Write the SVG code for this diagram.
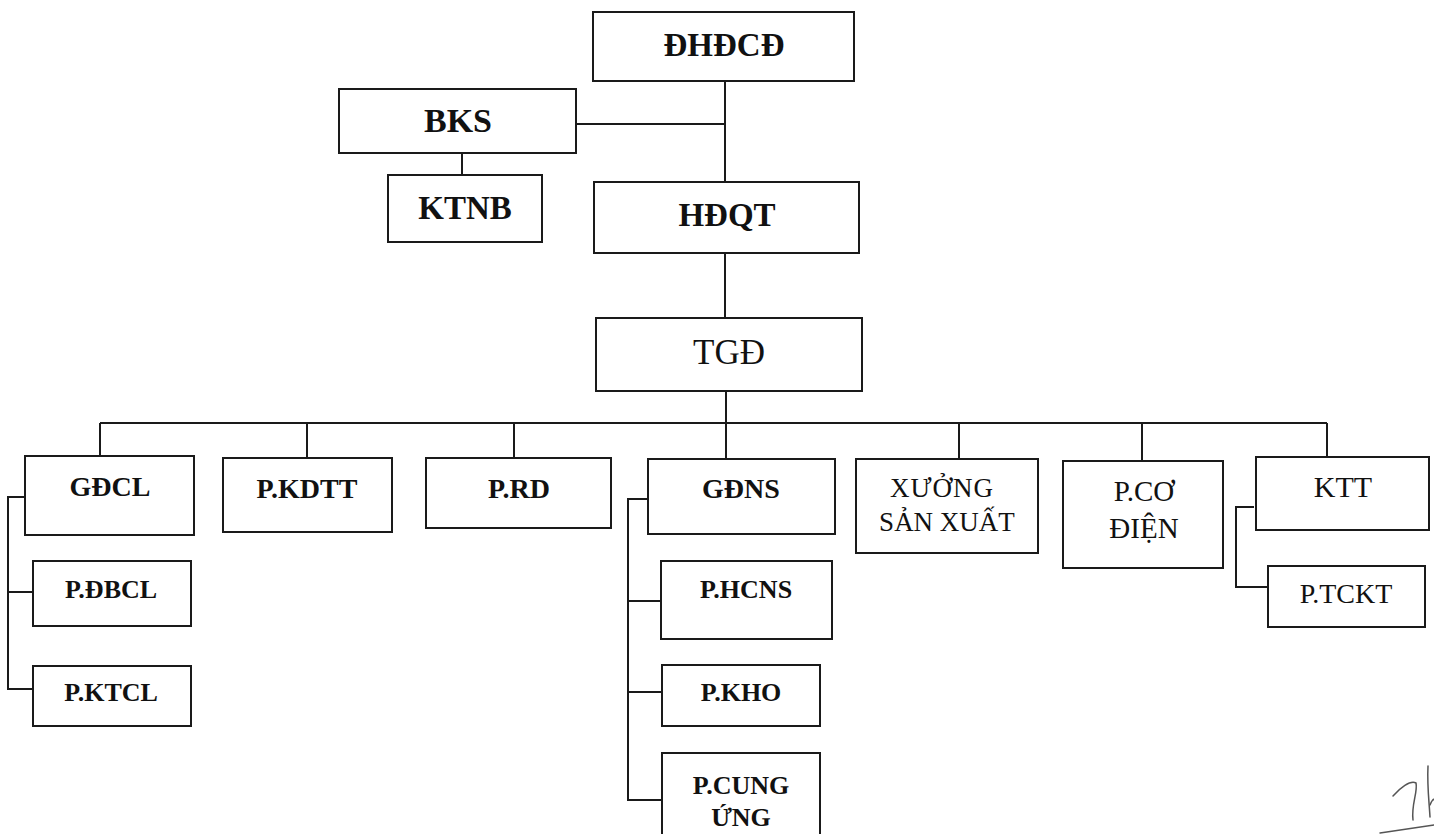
<svg xmlns="http://www.w3.org/2000/svg" width="1434" height="834" viewBox="0 0 1434 834">
<style>
.box{fill:#fff;stroke:#1a1a1a;stroke-width:2}
.ln{fill:none;stroke:#1a1a1a;stroke-width:2}
text{font-family:'Liberation Serif','Times New Roman',serif;fill:#111;text-anchor:middle}
.b{font-weight:bold}
.t1{font-size:33px}
.t2{font-size:28px}
.t3{font-size:26px}
</style>
<rect width="1434" height="834" fill="#fff"/>
<g id="connectors">
<path class="ln" d="M725,81 V182"/>
<path class="ln" d="M576,124 H725"/>
<path class="ln" d="M462,153 V175"/>
<path class="ln" d="M725,253 V318"/>
<path class="ln" d="M726,391 V423"/>
<path class="ln" d="M100,423 H1327"/>
<path class="ln" d="M100,423 V456 M307,423 V458 M514,423 V458 M726,423 V459 M959,423 V459 M1142,423 V461 M1327,423 V457"/>
<path class="ln" d="M25,497 H8 V689 H33 M8,592 H33"/>
<path class="ln" d="M648,499 H628 V800 H662 M628,601 H661 M628,692 H662"/>
<path class="ln" d="M1254,507 H1236 V587 H1268"/>
</g>
<g id="n-dhdcd"><rect class="box" x="593" y="12" width="261" height="69"/><text class="b t1" x="724" y="56">ĐHĐCĐ</text></g>
<g id="n-bks"><rect class="box" x="339" y="89" width="237" height="64"/><text class="b" font-size="34" x="458" y="132">BKS</text></g>
<g id="n-ktnb"><rect class="box" x="388" y="175" width="154" height="67"/><text class="b t1" x="465" y="219">KTNB</text></g>
<g id="n-hdqt"><rect class="box" x="594" y="182" width="265" height="71"/><text class="b t1" x="727" y="226">HĐQT</text></g>
<g id="n-tgd"><rect class="box" x="596" y="318" width="266" height="73"/><text font-size="35" x="729" y="364">TGĐ</text></g>
<g id="n-gdcl"><rect class="box" x="25" y="456" width="169" height="79"/><text class="b t2" x="110" y="496">GĐCL</text></g>
<g id="n-pkdtt"><rect class="box" x="223" y="458" width="169" height="74"/><text class="b t2" x="307" y="498">P.KDTT</text></g>
<g id="n-prd"><rect class="box" x="426" y="458" width="185" height="70"/><text class="b t2" x="519" y="498">P.RD</text></g>
<g id="n-gdns"><rect class="box" x="648" y="459" width="187" height="75"/><text class="b t2" x="741" y="498">GĐNS</text></g>
<g id="n-xuong"><rect class="box" x="856" y="459" width="182" height="94"/><text font-size="27" x="942" y="497" letter-spacing="1">XƯỞNG</text><text font-size="27" x="947" y="531">SẢN XUẤT</text></g>
<g id="n-pcodien"><rect class="box" x="1063" y="461" width="160" height="107"/><text font-size="29" x="1144" y="501">P.CƠ</text><text font-size="29" x="1144" y="538">ĐIỆN</text></g>
<g id="n-ktt"><rect class="box" x="1256" y="457" width="173" height="73"/><text font-size="30" x="1343" y="497">KTT</text></g>
<g id="n-pdbcl"><rect class="box" x="33" y="561" width="158" height="65"/><text class="b t3" x="111" y="598">P.ĐBCL</text></g>
<g id="n-pktcl"><rect class="box" x="33" y="666" width="158" height="60"/><text class="b t3" x="111" y="701">P.KTCL</text></g>
<g id="n-phcns"><rect class="box" x="661" y="561" width="171" height="78"/><text class="b t3" x="746" y="598">P.HCNS</text></g>
<g id="n-pkho"><rect class="box" x="662" y="665" width="158" height="61"/><text class="b t3" x="741" y="701">P.KHO</text></g>
<g id="n-pcungung"><rect class="box" x="662" y="753" width="158" height="90"/><text class="b t3" x="741" y="794">P.CUNG</text><text class="b t3" x="741" y="826">ỨNG</text></g>
<g id="n-ptckt"><rect class="box" x="1268" y="566" width="157" height="61"/><text font-size="28" x="1346" y="603">P.TCKT</text></g>
<g id="signature" fill="none" stroke="#555" stroke-width="1.5" stroke-linecap="round">
<path d="M1393,796 C1400,788 1410,780 1416,783 C1418,792 1411,805 1413,820"/>
<path d="M1428,766 C1427,785 1429,800 1430,817"/>
<path d="M1430,805 C1432,800 1434,798 1434,800"/>
<path d="M1380,833 C1400,830 1420,827 1434,825"/>
</g>
</svg>
